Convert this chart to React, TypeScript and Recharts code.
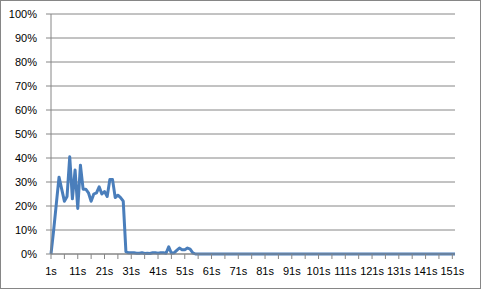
import React from 'react';
import { CartesianGrid, Line, LineChart, XAxis, YAxis } from 'recharts';

// percent values per second (1s .. 152s)
const earlyValues = [
  0, 10, 21, 32, 27, 22, 24, 40.5, 23, 35,
  19, 37, 27, 27, 25.5, 22, 25, 25.5, 28, 25,
  26, 24, 31, 31, 23.5, 24.5, 23.5, 22, 1, 0.5,
  0.5, 0.5, 0.3, 0.3, 0.5, 0.2, 0.3, 0.2, 0.5, 0.5,
  0.3, 0.5, 0.5, 0.3, 3, 0.3, 0.5, 1.5, 2.5, 1.8,
  1.8, 2.5, 2, 0.5,
];
const idleValues = new Array(152 - earlyValues.length).fill(0);
const seriesValues = [...earlyValues, ...idleValues];
const categories = seriesValues.map((_, i) => `${i + 1}s`);
const yTicks = [0, 10, 20, 30, 40, 50, 60, 70, 80, 90, 100];

const FONT = '"Liberation Sans", Arial, sans-serif';
const GRAY = '#868686';
const LINE_BLUE = '#4a7ebb';

const data = categories.map((t, i) => ({ t, v: seriesValues[i] }));

const XTick = (props: any) => {
  const { x, y, payload } = props;
  const n = parseInt(payload.value, 10);
  if ((n - 1) % 10 !== 0) return <g />;
  return (
    <text x={x} y={y} dy="0.71em" textAnchor="middle" fontSize={11} fontFamily={FONT} fill="#000">
      {payload.value}
    </text>
  );
};

export default function App() {
  return (
    <div style={{ position: 'fixed', left: 0, top: 0, width: 481, height: 289, background: '#fff' }}>
      <LineChart width={481} height={289} data={data} margin={{ top: 14, right: 26, bottom: 0, left: 0 }}>
        <CartesianGrid vertical={false} stroke={GRAY} strokeWidth={1} />
        <XAxis
          dataKey="t"
          interval={4}
          height={35}
          tick={<XTick />}
          tickSize={5}
          tickMargin={8}
          axisLine={{ stroke: GRAY }}
          tickLine={{ stroke: GRAY }}
        />
        <YAxis
          width={51}
          domain={[0, 100]}
          ticks={yTicks}
          interval={0}
          tickFormatter={(v: number) => `${v}%`}
          tickSize={5}
          tickMargin={9}
          axisLine={{ stroke: GRAY }}
          tickLine={{ stroke: GRAY }}
          tick={{ fontSize: 11, fontFamily: FONT, fill: '#000' }}
        />
        <Line
          type="linear"
          dataKey="v"
          stroke={LINE_BLUE}
          strokeWidth={3}
          strokeLinejoin="round"
          dot={false}
          activeDot={false}
          isAnimationActive={false}
        />
      </LineChart>
      <div
        style={{
          position: 'absolute',
          left: 0,
          top: 0,
          width: 481,
          height: 289,
          boxSizing: 'border-box',
          border: `1px solid ${GRAY}`,
          pointerEvents: 'none',
        }}
      />
    </div>
  );
}
